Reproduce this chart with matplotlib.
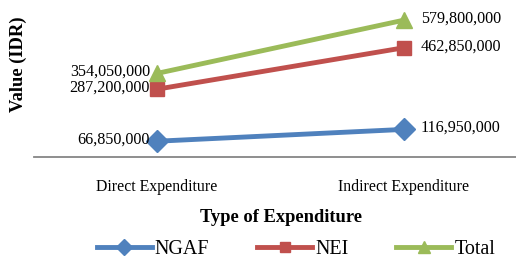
import matplotlib.pyplot as plt
from matplotlib.lines import Line2D

plt.rcParams['font.family'] = ['Liberation Serif', 'DejaVu Serif']

# 数据
categories = ['Direct Expenditure', 'Indirect Expenditure']
ngaf = [66850000, 116950000]
nei = [287200000, 462850000]
total = [354050000, 579800000]

series = [
    ('NGAF', ngaf, '#4F81BD', 'D', 11),
    ('NEI', nei, '#C0504D', 's', 10),
    ('Total', total, '#9BBB59', '^', 11),
]

fig = plt.figure(figsize=(5.16, 2.60), dpi=100)
ax = fig.add_axes([33.5 / 516, 103 / 260, 494 / 516, 157 / 260])

x = list(range(len(categories)))
for name, vals, color, marker, ms in series:
    ax.plot(x, vals, color=color, linewidth=3.5, marker=marker,
            markersize=ms, markeredgecolor=color, label=name,
            solid_capstyle='round')
    # 数据标签
    ax.annotate(f'{vals[0]:,}', (x[0], vals[0]), xytext=(-5, 1),
                textcoords='offset points', ha='right', va='center', fontsize=11.6)
    ax.annotate(f'{vals[1]:,}', (x[1], vals[1]), xytext=(12, 1),
                textcoords='offset points', ha='left', va='center', fontsize=11.6)

ax.set_xlim(-0.5, 1.5)
ax.set_ylim(0, 665000000)
ax.set_xticks(x)
ax.set_xticklabels(categories, fontsize=11.4)
ax.tick_params(axis='x', length=0, pad=16)
ax.set_yticks([])
for side in ['top', 'right', 'left']:
    ax.spines[side].set_visible(False)
ax.spines['bottom'].set_color('#868686')
ax.spines['bottom'].set_linewidth(1.3)

fig.text(280.5 / 516, 1 - 217 / 260, 'Type of Expenditure', ha='center', va='center',
         fontsize=13.3, fontweight='bold')
fig.text(18 / 516, 1 - 64 / 260, 'Value (IDR)', ha='center', va='center',
         rotation=90, fontsize=13.3, fontweight='bold')

handles = [Line2D([0], [0], color=c, linewidth=3.5, marker=m, markersize=ms - 3,
                  markeredgecolor=c) for _, _, c, m, ms in series]
fig.legend(handles, [s[0] for s in series], loc='center', ncol=3,
           bbox_to_anchor=(296 / 516, 1 - 249 / 260), frameon=False, fontsize=14.4,
           handlelength=2.75, handletextpad=0.15, columnspacing=2.4,
           borderpad=0, borderaxespad=0)

fig.savefig('out.png', dpi=100)
